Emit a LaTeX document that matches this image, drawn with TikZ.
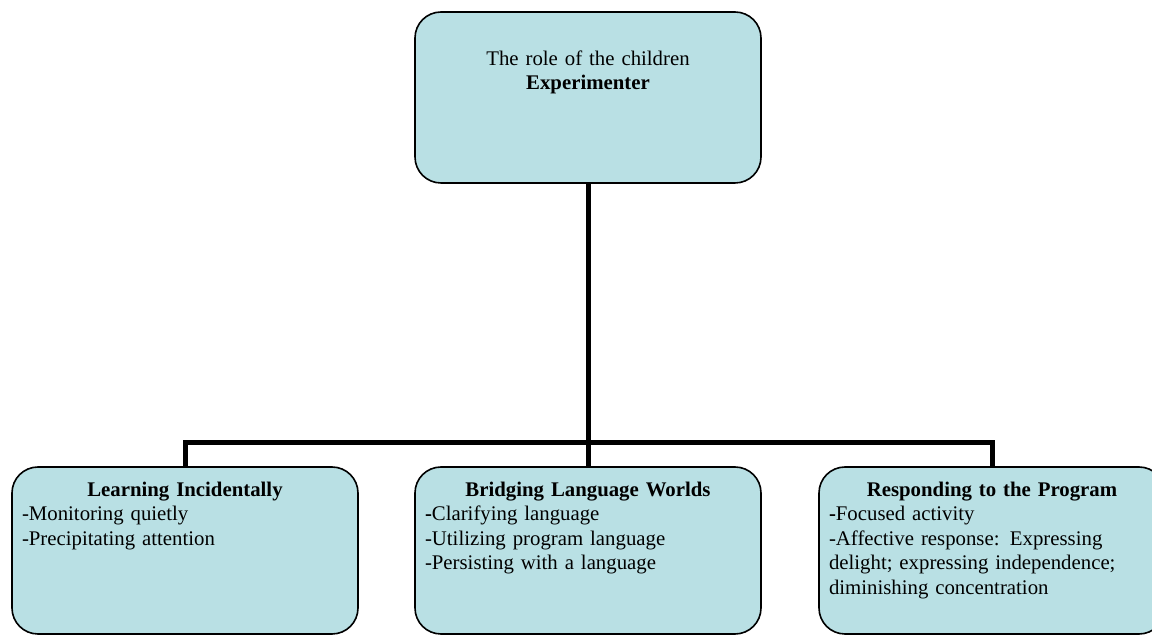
\documentclass[tikz,border=0pt]{standalone}
\usepackage{fontspec}
\setmainfont{Liberation Serif}
\usepackage{tikz}
\hyphenpenalty=10000
\definecolor{boxfill}{RGB}{185,224,228}
\tikzset{
  rolebox/.style={draw=black,line width=0.8pt,fill=boxfill,rounded corners=13pt,
    minimum width=173pt,inner sep=0pt},
  roletext/.style={inner sep=0pt,text width=163pt,anchor=north,
    font=\fontsize{10.4}{12.3}\selectfont},
  link/.style={line width=2.5pt}
}
\begin{document}
\begin{tikzpicture}[x=0.5pt,y=-0.5pt]
\useasboundingbox (0,0) rectangle (1152,635);
\node[rolebox,minimum height=85.5pt] (top) at (588,97.5) {};
\node[rolebox,minimum height=83.5pt] (left) at (185,550.5) {};
\node[rolebox,minimum height=83.5pt] (mid) at (588,550.5) {};
\node[rolebox,minimum height=83.5pt] (right) at (992,550.5) {};
\coordinate (bar) at (588,443);
\node[roletext,align=center] (toptext) at ([yshift=-19.5pt]top.north) {The role of the children\\\textbf{Experimenter}};
\node[roletext,align=left] (lefttext) at ([yshift=-7.5pt]left.north) {\makebox[163pt]{\textbf{Learning Incidentally}}\\
-Monitoring quietly\\-Precipitating attention};
\node[roletext,align=left] (midtext) at ([yshift=-7.5pt]mid.north) {\makebox[163pt]{\textbf{Bridging Language Worlds}}\\
\textbf{-}Clarifying language\\-Utilizing program language\\-Persisting with a language};
\node[roletext,align=left] (righttext) at ([yshift=-7.5pt]right.north) {\makebox[163pt]{\textbf{Responding to the Program}}\\
\textbf{-}Focused activity\\-Affective response: Expressing delight; expressing independence; diminishing concentration};
\draw[link] (top.south) -- (mid.north);
\draw[link] (left.north) |- (bar) -| (right.north);
\end{tikzpicture}
\end{document}
